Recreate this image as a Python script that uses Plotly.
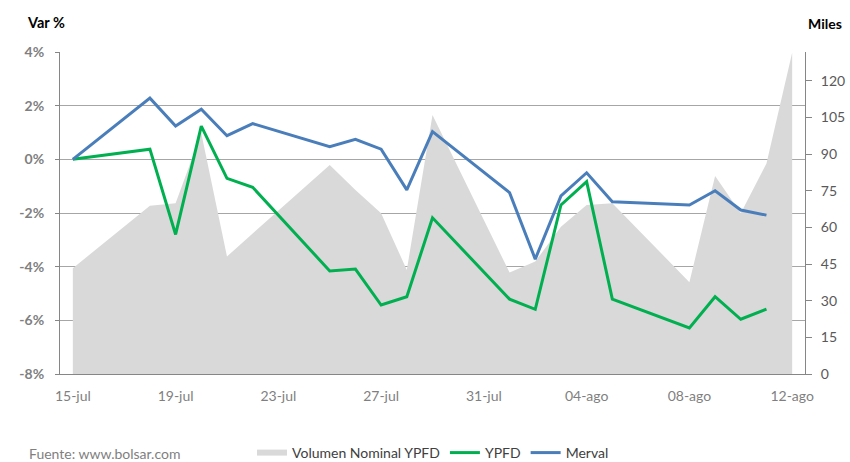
import plotly.graph_objects as go

# ---- data ----
dates = ["2016-07-15", "2016-07-18", "2016-07-19", "2016-07-20", "2016-07-21",
         "2016-07-22", "2016-07-25", "2016-07-26", "2016-07-27", "2016-07-28",
         "2016-07-29", "2016-08-01", "2016-08-02", "2016-08-03", "2016-08-04",
         "2016-08-05", "2016-08-08", "2016-08-09", "2016-08-10", "2016-08-11",
         "2016-08-12"]
volumen = [43.3, 68.9, 69.9, 98.5, 48.1, 57.5, 85.5, 75.3, 65.8, 42.6,
           106.0, 41.5, 46.0, 60.3, 69.2, 69.9, 37.6, 81.0, 65.8, 86.2, 131.5]
ypfd = [0.0, 0.38, -2.80, 1.24, -0.71, -1.04, -4.16, -4.09, -5.43, -5.12,
        -2.18, -5.21, -5.59, -1.70, -0.83, -5.21, -6.28, -5.12, -5.96, -5.58, None]
merval = [0.0, 2.28, 1.24, 1.87, 0.88, 1.33, 0.47, 0.745, 0.38, -1.14,
          1.03, -1.24, -3.72, -1.36, -0.50, -1.58, -1.70, -1.17, -1.89, -2.08, None]

x_tickvals = ["2016-07-15", "2016-07-19", "2016-07-23", "2016-07-27",
              "2016-07-31", "2016-08-04", "2016-08-08", "2016-08-12"]
x_ticktext = ["15-jul", "19-jul", "23-jul", "27-jul", "31-jul", "04-ago", "08-ago", "12-ago"]
pct_tickvals = [-8, -6, -4, -2, 0, 2, 4]
pct_ticktext = ["-8%", "-6%", "-4%", "-2%", "0%", "2%", "4%"]
vol_tickvals = [0, 15, 30, 45, 60, 75, 90, 105, 120]

FONT = "Lato"
AXIS = "#868686"

fig = go.Figure()
fig.add_trace(go.Scatter(x=dates, y=volumen, name="Volumen Nominal YPFD",
                         mode="none", fill="tozeroy", fillcolor="#D9D9D9",
                         yaxis="y"))
fig.add_trace(go.Scatter(x=dates, y=ypfd, name="YPFD", mode="lines",
                         line=dict(color="#00B050", width=3), yaxis="y2"))
fig.add_trace(go.Scatter(x=dates, y=merval, name="Merval", mode="lines",
                         line=dict(color="#4A7EBB", width=3), yaxis="y2"))

fig.update_layout(
    width=850, height=462,
    margin=dict(l=60, r=45, t=52, b=88),
    paper_bgcolor="white", plot_bgcolor="white",
    font=dict(family=FONT, size=14, color="#404040"),
    showlegend=True,
    legend=dict(orientation="h", xref="container", yref="container",
                x=0.2965, xanchor="left", y=0.0195, yanchor="middle",
                font=dict(family=FONT, size=14, color="#404040"),
                itemwidth=30, bgcolor="rgba(0,0,0,0)"),
    xaxis=dict(type="date", range=["2016-07-14 12:00", "2016-08-12 12:00"],
               tickmode="array", tickvals=x_tickvals, ticktext=x_ticktext,
               showgrid=False, showline=True, linecolor=AXIS, linewidth=1,
               ticks="", ticklabelstandoff=9, automargin=False,
               tickfont=dict(family=FONT, size=14, color="#7F7F7F"), zeroline=False),
    yaxis=dict(side="right", range=[0, 131.8], tickmode="array", tickvals=vol_tickvals,
               showgrid=False, zeroline=False, showline=True, linecolor=AXIS,
               ticks="outside", ticklen=6, tickcolor=AXIS, ticklabelstandoff=6,
               automargin=False,
               tickfont=dict(family=FONT, size=14, color="#595959")),
    yaxis2=dict(overlaying="y", side="left", range=[-8, 4], tickmode="array",
                tickvals=pct_tickvals, ticktext=pct_ticktext,
                showgrid=True, gridcolor="#A6A6A6", gridwidth=1, zeroline=False,
                showline=True, linecolor=AXIS, ticks="outside", ticklen=4,
                tickcolor=AXIS, ticklabelstandoff=8, automargin=False,
                tickfont=dict(family=FONT, size=14, color="#7F7F7F", weight="bold")),
    annotations=[
        dict(text="<b>Var %</b>", xref="paper", yref="paper", x=-0.047, y=1.093,
             xanchor="left", yanchor="middle", showarrow=False,
             font=dict(family=FONT, size=14.5, color="#000000")),
        dict(text="<b>Miles</b>", xref="paper", yref="paper", x=1.002, y=1.087,
             xanchor="left", yanchor="middle", showarrow=False,
             font=dict(family=FONT, size=14, color="#000000")),
        dict(text="Fuente: www.bolsar.com", xref="paper", yref="paper", x=-0.044, y=-0.246,
             xanchor="left", yanchor="middle", showarrow=False,
             font=dict(family=FONT, size=14, color="#7F7F7F")),
    ],
)

fig.write_html("out.html", config={"displayModeBar": False},
               post_script="document.body.style.margin='0';document.body.style.overflow='hidden';")
